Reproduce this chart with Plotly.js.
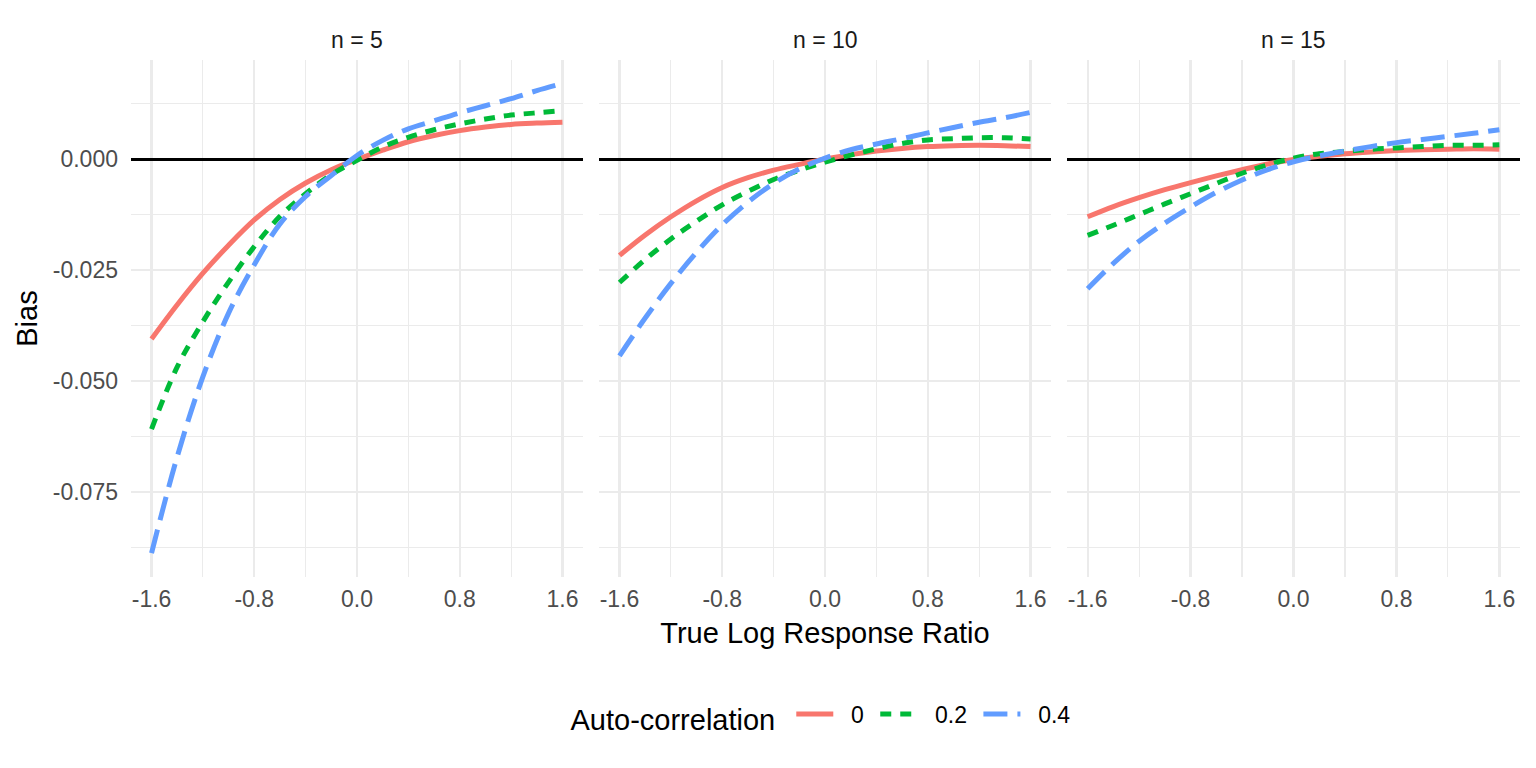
<!DOCTYPE html>
<html>
<head>
<meta charset="utf-8">
<script src="https://cdn.plot.ly/plotly-3.0.1.min.js"></script>
<style>
  html, body { margin: 0; padding: 0; background: #ffffff; }
  #chart { width: 1536px; height: 768px; }
</style>
</head>
<body>
<div id="chart"></div>
<script>
// ---- data ----
const panels = ["n = 5", "n = 10", "n = 15"];
const seriesNames = ["0", "0.2", "0.4"];
const legendTitle = "Auto-correlation";
const lrr = [-1.6, -1.4, -1.2, -1.0, -0.8, -0.6, -0.4, -0.2, 0.0, 0.2, 0.4, 0.6, 0.8, 1.0, 1.2, 1.4, 1.6];

// n = 5
const n5_r0  = [-0.0405, -0.0328, -0.0257, -0.0194, -0.0137, -0.0091, -0.0054, -0.0024, -0.0001, 0.0020, 0.0039, 0.0053, 0.0064, 0.0072, 0.0078, 0.0081, 0.0083];
const n5_r02 = [-0.0608, -0.0468, -0.0366, -0.0277, -0.0197, -0.0129, -0.0078, -0.0035, -0.0003, 0.0027, 0.0049, 0.0066, 0.0079, 0.0090, 0.0099, 0.0104, 0.0109];
const n5_r04 = [-0.0887, -0.0670, -0.0490, -0.0347, -0.0238, -0.0146, -0.0084, -0.0037, 0.0008, 0.0042, 0.0068, 0.0086, 0.0104, 0.0120, 0.0136, 0.0154, 0.0170];
// n = 10
const n10_r0  = [-0.0217, -0.0171, -0.0130, -0.0094, -0.0064, -0.0042, -0.0025, -0.0012, 0.0000, 0.0010, 0.0018, 0.0024, 0.0028, 0.0030, 0.0031, 0.0030, 0.0028];
const n10_r02 = [-0.0278, -0.0226, -0.0180, -0.0140, -0.0103, -0.0073, -0.0046, -0.0025, -0.0007, 0.0009, 0.0023, 0.0035, 0.0043, 0.0046, 0.0048, 0.0048, 0.0045];
const n10_r04 = [-0.0443, -0.0358, -0.0280, -0.0210, -0.0148, -0.0097, -0.0055, -0.0022, 0.0002, 0.0021, 0.0034, 0.0046, 0.0059, 0.0071, 0.0083, 0.0093, 0.0105];
// n = 15
const n15_r0  = [-0.0130, -0.0107, -0.0087, -0.0069, -0.0053, -0.0038, -0.0024, -0.0011, -0.0001, 0.0006, 0.0012, 0.0016, 0.0019, 0.0021, 0.0022, 0.0023, 0.0022];
const n15_r02 = [-0.0172, -0.0149, -0.0125, -0.0101, -0.0078, -0.0055, -0.0032, -0.0013, 0.0002, 0.0012, 0.0017, 0.0022, 0.0025, 0.0028, 0.0031, 0.0031, 0.0032];
const n15_r04 = [-0.0292, -0.0235, -0.0185, -0.0144, -0.0108, -0.0075, -0.0047, -0.0024, -0.0006, 0.0007, 0.0018, 0.0028, 0.0037, 0.0044, 0.0051, 0.0058, 0.0066];

const xTickVals = [-1.6, -0.8, 0.0, 0.8, 1.6];
const xTickText = ["-1.6", "-0.8", "0.0", "0.8", "1.6"];
const xMinorVals = [-1.2, -0.4, 0.4, 1.2];
const yTickVals = [-0.075, -0.050, -0.025, 0.000];
const yTickText = ["-0.075", "-0.050", "-0.025", "0.000"];
const yMinorVals = [-0.0875, -0.0625, -0.0375, -0.0125, 0.0125];

const panelData = [
  [n5_r0, n5_r02, n5_r04],
  [n10_r0, n10_r02, n10_r04],
  [n15_r0, n15_r02, n15_r04]
];

// ---- styling ----
const colors = ["#F8766D", "#00BA38", "#619CFF"];
const dashes = ["solid", "11px,9px", "24px,10px"];
const FONT = "Liberation Sans, Arial, Helvetica, sans-serif";
const PAD = "\u00A0\u00A0";
const TPAD = "\u00A0";

const traces = [];
panelData.forEach((series, p) => {
  series.forEach((vals, s) => {
    traces.push({
      type: "scatter",
      mode: "lines",
      x: lrr,
      y: vals,
      name: PAD + seriesNames[s] + TPAD,
      legendgroup: seriesNames[s],
      showlegend: p === 0,
      xaxis: p === 0 ? "x" : "x" + (p + 1),
      yaxis: p === 0 ? "y" : "y" + (p + 1),
      line: { color: colors[s], width: 5, dash: dashes[s], shape: "spline", smoothing: 1 },
      hoverinfo: "skip"
    });
  });
});

const domains = [[0, 0.3254], [0.3369, 0.6624], [0.6739, 1.0]];

function xAxis(i) {
  return {
    domain: domains[i],
    range: [-1.76, 1.76],
    anchor: i === 0 ? "y" : "y" + (i + 1),
    tickmode: "array",
    tickvals: xTickVals,
    ticktext: xTickText,
    ticks: "",
    ticklabelstandoff: 6,
    showline: false,
    zeroline: false,
    showgrid: true,
    gridcolor: "#EBEBEB",
    gridwidth: 2.2,
    minor: { tickmode: "array", tickvals: xMinorVals, showgrid: true, gridcolor: "#EBEBEB", gridwidth: 1.1, ticks: "" },
    tickfont: { family: FONT, size: 23, color: "#4D4D4D" },
    fixedrange: true
  };
}
function yAxis(i) {
  return {
    domain: [0, 1],
    range: [-0.0941, 0.0223],
    anchor: i === 0 ? "x" : "x" + (i + 1),
    tickmode: "array",
    tickvals: yTickVals,
    ticktext: yTickText,
    showticklabels: i === 0,
    ticks: "",
    ticklabelstandoff: 12,
    showline: false,
    zeroline: true,
    zerolinecolor: "#000000",
    zerolinewidth: 3,
    showgrid: true,
    gridcolor: "#EBEBEB",
    gridwidth: 2.2,
    minor: { tickmode: "array", tickvals: yMinorVals, showgrid: true, gridcolor: "#EBEBEB", gridwidth: 1.1, ticks: "" },
    tickfont: { family: FONT, size: 23, color: "#4D4D4D" },
    fixedrange: true
  };
}

const layout = {
  width: 1536,
  height: 768,
  paper_bgcolor: "#ffffff",
  plot_bgcolor: "#ffffff",
  margin: { l: 131, r: 16, t: 60, b: 191, pad: 0 },
  font: { family: FONT, color: "#000000" },
  showlegend: true,
  legend: {
    orientation: "h",
    x: 0.5, xanchor: "center",
    y: -0.27, yanchor: "middle",
    title: { text: legendTitle + TPAD, side: "left", font: { family: FONT, size: 29, color: "#000000" } },
    font: { family: FONT, size: 23, color: "#000000" },
    itemwidth: 37,
    traceorder: "normal",
    bgcolor: "rgba(0,0,0,0)"
  },
  annotations: panels.map((t, i) => ({
    text: t,
    xref: "paper", yref: "paper",
    x: (domains[i][0] + domains[i][1]) / 2,
    y: 1.0387,
    xanchor: "center", yanchor: "middle",
    showarrow: false,
    font: { family: FONT, size: 23, color: "#1A1A1A" }
  }))
};
layout.xaxis = xAxis(0);
layout.xaxis2 = xAxis(1);
layout.xaxis3 = xAxis(2);
layout.yaxis = yAxis(0);
layout.yaxis2 = yAxis(1);
layout.yaxis3 = yAxis(2);
layout.xaxis2.title = { text: "True Log Response Ratio", font: { family: FONT, size: 29, color: "#000000" }, standoff: 11 };
layout.yaxis.title = { text: "Bias", font: { family: FONT, size: 29, color: "#000000" }, standoff: 6 };

Plotly.newPlot("chart", traces, layout, { staticPlot: true, displayModeBar: false });
</script>
</body>
</html>
